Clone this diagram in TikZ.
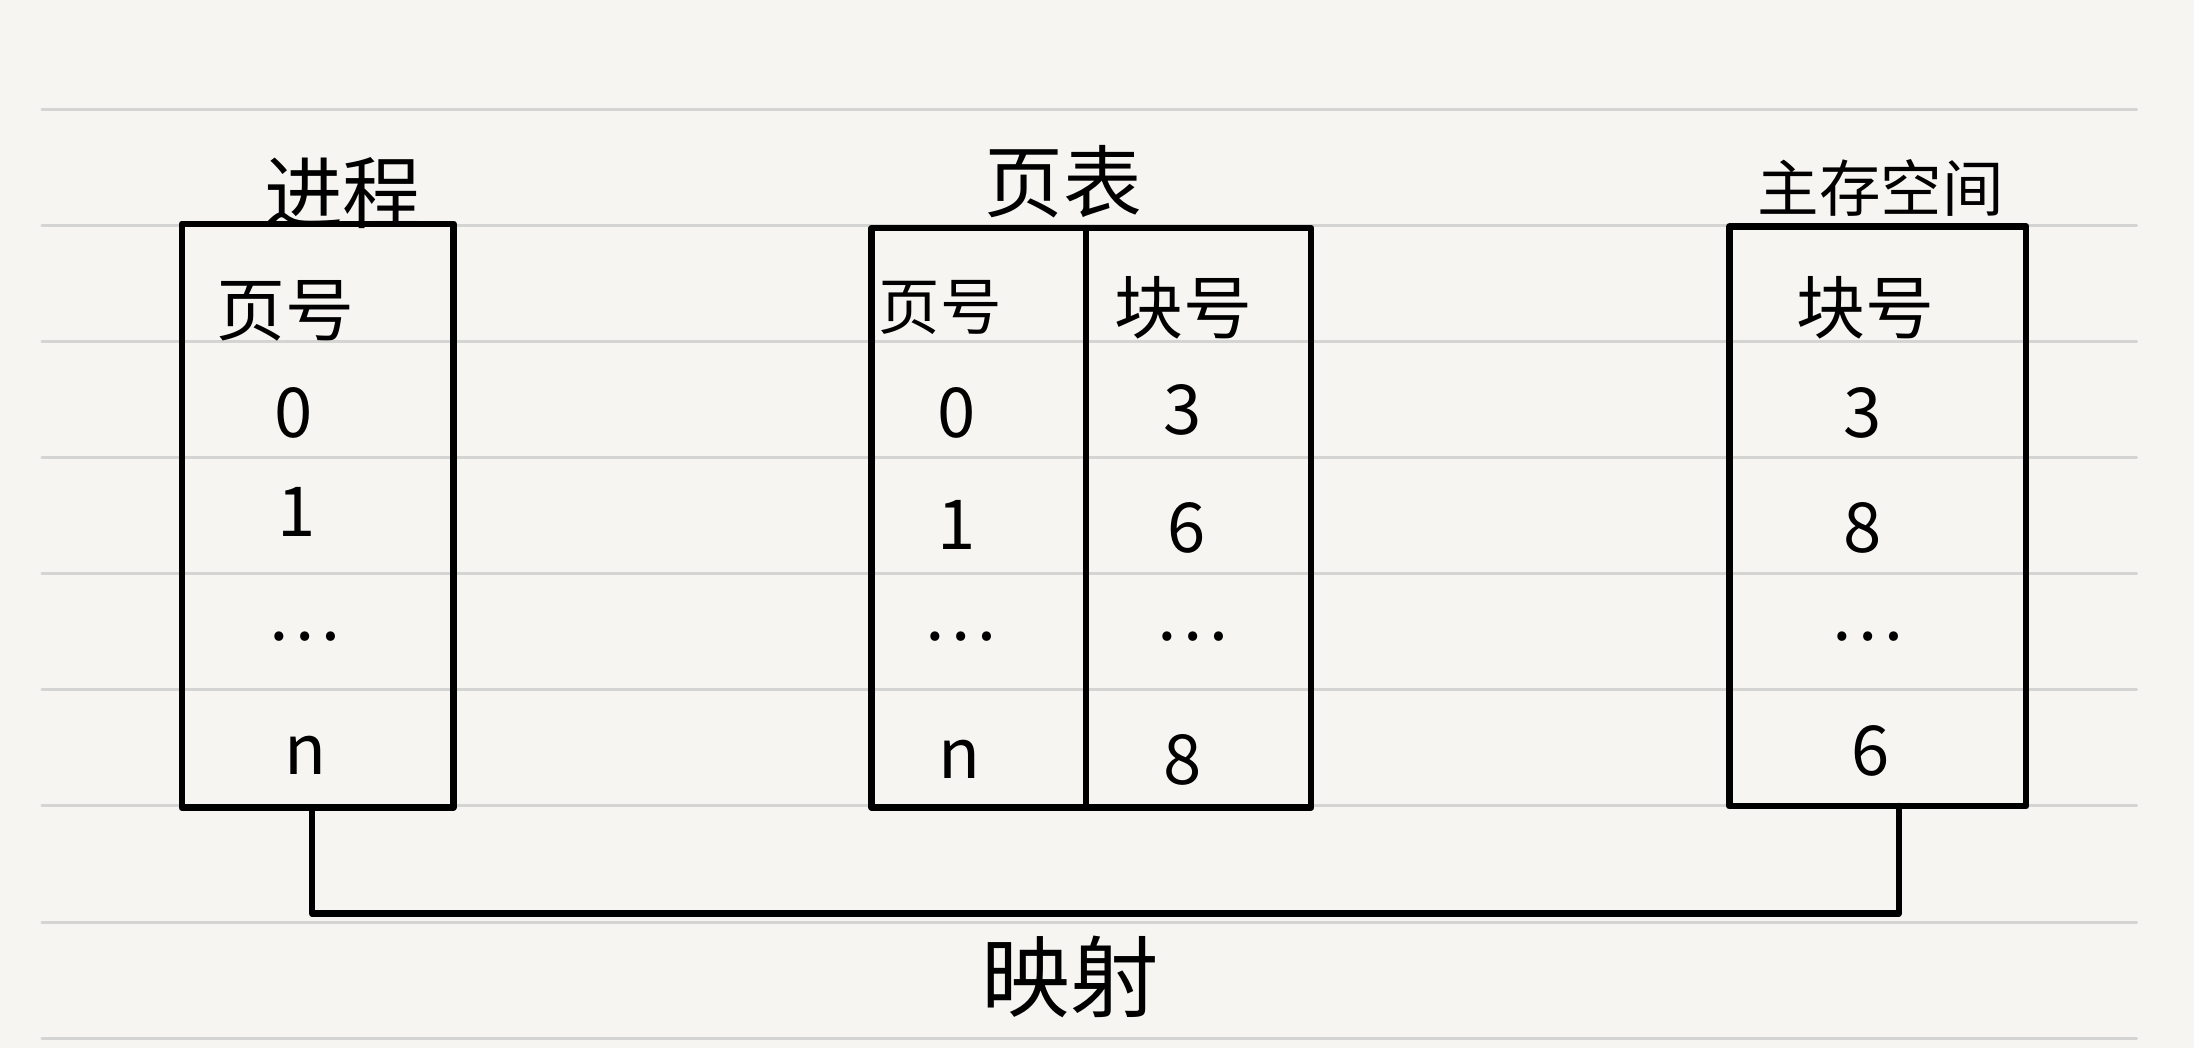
\documentclass[tikz,border=0pt]{standalone}
\usepackage{fontspec}
\newfontfamily\cjk{Noto Sans CJK SC}
\usetikzlibrary{positioning}

\definecolor{paper}{HTML}{F6F5F1}
\definecolor{rule}{HTML}{D4D4D2}

\tikzset{
  box/.style={draw,line width=1.3pt,minimum width=#1,inner sep=0pt},
  cell/.style={font=\cjk\fontsize{14}{16}\selectfont,inner sep=1pt},
  title/.style={font=\cjk\fontsize{16}{18}\selectfont,inner sep=1pt}
}

\begin{document}
\begin{tikzpicture}[x=0.01cm,y=-0.01cm,line cap=round,line join=round]

  %-------------------------
  % Papel rayado
  %-------------------------
  \fill[paper] (0,0) rectangle (1568,749);
  \useasboundingbox (0,0) rectangle (1568,749);
  \foreach \y in {78,161,244,327,410,493,576,659,742}
    \draw[rule,line width=0.6pt] (30,\y) -- (1527,\y);

  %-------------------------
  % Proceso
  %-------------------------
  \node[box=1.94cm,minimum height=4.17cm] (proc) at (227,368.5) {};
  \node[title] (procT) at (245,138) {进程};
  \node[cell] (procH) at (204,222) {页号};
  \node[cell] (p0) at (210,295) {0};
  \node[cell] (p1) at (212,366) {1};
  \node[cell] (pd) at (217,455) {\ldots};
  \node[cell] (pn) at (218,540) {n};

  %-------------------------
  % Tabla de páginas
  %-------------------------
  \node[box=3.14cm,minimum height=4.14cm] (tab) at (780,370) {};
  \draw[line width=1.3pt] (776,163) -- (776,577);
  \node[title] (tabT) at (760,130) {页表};
  \node[cell,font=\cjk\fontsize{12.5}{15}\selectfont] (tabH1) at (672,220) {页号};
  \node[cell] (tabH2) at (846,220) {块号};
  \node[cell] (t0a) at (684,295) {0};
  \node[cell] (t0b) at (845,293) {3};
  \node[cell] (t1a) at (684,375) {1};
  \node[cell] (t1b) at (848,377) {6};
  \node[cell] (tda) at (686,455) {\ldots};
  \node[cell] (tdb) at (852,455) {\ldots};
  \node[cell] (tna) at (686,543) {n};
  \node[cell] (tnb) at (845,543) {8};

  %-------------------------
  % Espacio de memoria principal
  %-------------------------
  \node[box=2.12cm,minimum height=4.14cm] (mem) at (1342,369) {};
  \node[title,font=\cjk\fontsize{12.5}{15}\selectfont] (memT) at (1344,134) {主存空间};
  \node[cell] (memH) at (1333,220) {块号};
  \node[cell] (m0) at (1331,295) {3};
  \node[cell] (m1) at (1331,377) {8};
  \node[cell] (md) at (1334,455) {\ldots};
  \node[cell] (m2) at (1337,537) {6};

  %-------------------------
  % Mapeo
  %-------------------------
  \coordinate (mapL) at (223,577);
  \coordinate (mapR) at (1357,576);
  \draw[line width=1.3pt] (mapL) -- (223,653) -- (1357,653) -- (mapR);
  \node[title,font=\cjk\fontsize{18}{20}\selectfont] (mapT) at (765,698) {映射};

\end{tikzpicture}
\end{document}
